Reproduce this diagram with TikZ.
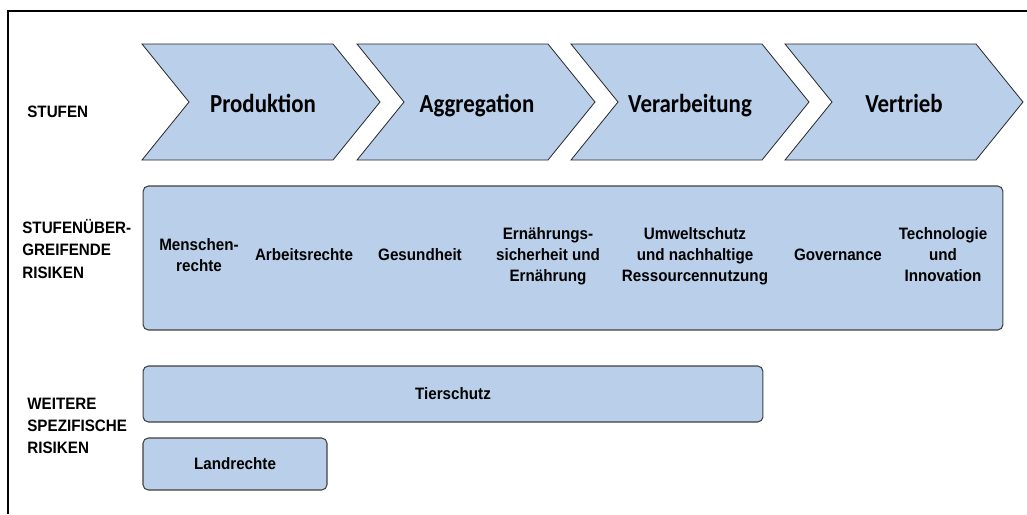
\documentclass[tikz,border=0pt]{standalone}
\usepackage{fontspec}
\setmainfont{Liberation Sans}[FakeStretch=0.92]
\newfontfamily\stufenfont{Carlito}[FakeStretch=0.88]
\usetikzlibrary{positioning}
\definecolor{riskblue}{RGB}{185,207,234}

\begin{document}
\begin{tikzpicture}[
    x=0.02cm, y=-0.02cm,
    stage/.style={draw=black!85, fill=riskblue, line width=0.45pt, line join=miter},
    stagelabel/.style={anchor=base, font=\stufenfont\bfseries\fontsize{14.8}{17}\selectfont},
    rowlabel/.style={anchor=west, align=left, inner sep=0pt, font=\bfseries\fontsize{9.4}{12.6}\selectfont},
    riskbox/.style={draw=black!75, fill=riskblue, rounded corners=3pt, line width=0.6pt, inner sep=0pt},
    risk/.style={align=center, inner sep=0pt, font=\bfseries\fontsize{9.4}{12}\selectfont}
]
\useasboundingbox (0,0) rectangle (1027,514);

% Frame
\draw[line width=0.8pt] (8,514) -- (8,11) -- (1027,11);

% Row 1: Stufen
\node[rowlabel, anchor=base west] (stufen) at (27,117) {STUFEN};

% Stage 1: Produktion
\draw[stage] (142,44) -- (333,44) -- (380,102) -- (333,160) -- (142,160) -- (189,102) -- cycle;
\node[stagelabel] (produktion) at (263,112) {Produktion};

% Stage 2: Aggregation
\draw[stage] (357,44) -- (548,44) -- (595,102) -- (548,160) -- (357,160) -- (404,102) -- cycle;
\node[stagelabel] (aggregation) at (477,112) {Aggregation};

% Stage 3: Verarbeitung
\draw[stage] (571,44) -- (762,44) -- (809,102) -- (762,160) -- (571,160) -- (618,102) -- cycle;
\node[stagelabel] (verarbeitung) at (690,112) {Verarbeitung};

% Stage 4: Vertrieb
\draw[stage] (785,44) -- (976,44) -- (1023,102) -- (976,160) -- (785,160) -- (832,102) -- cycle;
\node[stagelabel] (vertrieb) at (904,112) {Vertrieb};

% Row 2: stufenuebergreifende Risiken
\node[rowlabel] (uebergreifend) at (22,249) {STUFENÜBER-\\GREIFENDE\\RISIKEN};
\node[riskbox, minimum width=17.2cm, minimum height=2.88cm] (querschnitt) at (573,258) {};

\node[risk] (menschen) at (199,255.5) {Menschen-\\rechte};
\node[risk] (arbeit) at (304,255) {Arbeitsrechte};
\node[risk] (gesundheit) at (420,255) {Gesundheit};
\node[risk] (ernaehrung) at (548,256.5) {Ernährungs-\\sicherheit und\\Ernährung};
\node[risk] (umwelt) at (695,256.5) {Umweltschutz\\und nachhaltige\\Ressourcennutzung};
\node[risk] (governance) at (838,255) {Governance};
\node[risk] (technologie) at (943,255) {Technologie\\und\\Innovation};

% Row 3: weitere spezifische Risiken
\node[rowlabel, font=\bfseries\fontsize{9.4}{12.3}\selectfont] (weitere) at (27,426) {WEITERE\\SPEZIFISCHE\\RISIKEN};
\node[riskbox, risk, minimum width=12.4cm, minimum height=1.12cm] (tierschutz) at (453,394) {Tierschutz};
\node[riskbox, risk, minimum width=3.68cm, minimum height=1.04cm] (landrechte) at (235,464) {Landrechte};

\end{tikzpicture}
\end{document}
